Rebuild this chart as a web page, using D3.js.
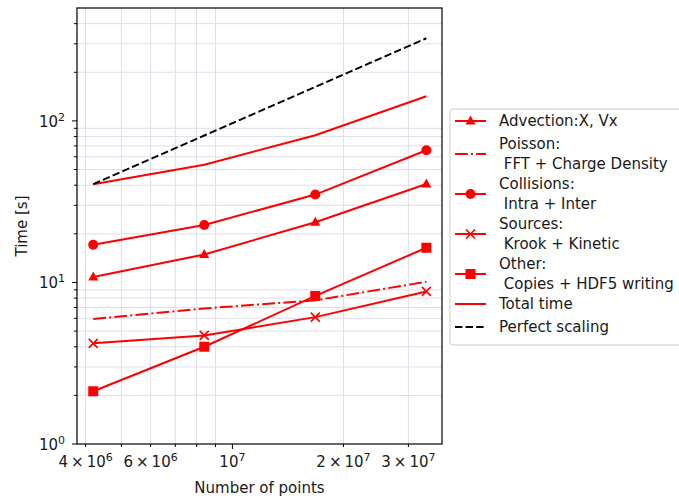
<!DOCTYPE html>
<html>
<head>
<meta charset="utf-8">
<script src="https://cdn.jsdelivr.net/npm/d3@7"></script>
<style>
  body { margin: 0; background: #fff; }
  text { font-family: "DejaVu Sans", sans-serif; fill: #1a1a1a; }
</style>
</head>
<body>
<svg id="chart" width="679" height="496"></svg>
<script>
const svg = d3.select("#chart"),
      width = +svg.attr("width"),
      height = +svg.attr("height");

// data
const points = [4194304, 8388608, 16777216, 33554432];
const advection = [10.8, 14.9, 23.6, 40.7];
const poisson = [5.95, 6.9, 7.75, 10.1];
const collisions = [17.1, 22.7, 35.0, 65.8];
const sources = [4.2, 4.7, 6.1, 8.8];
const other = [2.12, 4.0, 8.25, 16.4];
const total = [40.6, 53.6, 81.5, 142];
const perfect = [40.6, 81.2, 162.4, 324.8];

const xTickLabels = [[4, 6], [6, 6], [1, 7], [2, 7], [3, 7]];
const yTickLabels = [0, 1, 2];

const plot = {left: 77, right: 442, top: 8, bottom: 444};

const x = d3.scaleLog().domain([3.79e6, 3.70e7]).range([plot.left, plot.right]);
const y = d3.scaleLog().domain([1, 500]).range([plot.bottom, plot.top]);

const red = "#ff0000";
const gridColor = "#dedeea";

// minor grid only
const xMinor = [];
for (let e = 6; e <= 7; e++) for (let m = 2; m <= 9; m++) {
  const v = m * Math.pow(10, e);
  if (v > x.domain()[0] && v < x.domain()[1]) xMinor.push(v);
}
const yMinor = [];
for (let e = 0; e <= 2; e++) for (let m = 2; m <= 9; m++) {
  const v = m * Math.pow(10, e);
  if (v < y.domain()[1]) yMinor.push(v);
}

const grid = svg.append("g");
grid.selectAll(".gx").data(xMinor).join("line")
  .attr("x1", d => x(d)).attr("x2", d => x(d))
  .attr("y1", plot.top).attr("y2", plot.bottom)
  .attr("stroke", gridColor).attr("stroke-width", 1);
grid.selectAll(".gy").data(yMinor).join("line")
  .attr("x1", plot.left).attr("x2", plot.right)
  .attr("y1", d => y(d)).attr("y2", d => y(d))
  .attr("stroke", gridColor).attr("stroke-width", 1);

// series
const line = d3.line().x((d, i) => x(points[i])).y(d => y(d));

const series = [
  {name: ["Advection:X, Vx"], data: advection, marker: "triangle", dash: null, color: red},
  {name: ["Poisson:", " FFT + Charge Density"], data: poisson, marker: null, dash: "12.8,3.2,2,3.2", color: red},
  {name: ["Collisions:", " Intra + Inter"], data: collisions, marker: "circle", dash: null, color: red},
  {name: ["Sources:", " Krook + Kinetic"], data: sources, marker: "x", dash: null, color: red},
  {name: ["Other:", " Copies + HDF5 writing"], data: other, marker: "square", dash: null, color: red},
  {name: ["Total time"], data: total, marker: null, dash: null, color: red},
  {name: ["Perfect scaling"], data: perfect, marker: null, dash: "7.4,3.2", color: "#000"}
];

function drawMarker(g, type, cx, cy, color) {
  if (type === "circle") {
    g.append("circle").attr("cx", cx).attr("cy", cy).attr("r", 5).attr("fill", color);
  } else if (type === "square") {
    g.append("rect").attr("x", cx - 5).attr("y", cy - 5).attr("width", 10).attr("height", 10).attr("fill", color);
  } else if (type === "triangle") {
    g.append("path").attr("d", `M${cx},${cy - 5.5}L${cx + 5},${cy + 3.5}L${cx - 5},${cy + 3.5}Z`).attr("fill", color);
  } else if (type === "x") {
    g.append("path").attr("d", `M${cx - 4.5},${cy - 4.5}L${cx + 4.5},${cy + 4.5}M${cx - 4.5},${cy + 4.5}L${cx + 4.5},${cy - 4.5}`)
      .attr("stroke", color).attr("stroke-width", 1.6).attr("fill", "none");
  }
}

const lines = svg.append("g");
series.forEach(s => {
  lines.append("path")
    .datum(s.data)
    .attr("d", line)
    .attr("fill", "none")
    .attr("stroke", s.color)
    .attr("stroke-width", 2)
    .attr("stroke-dasharray", s.dash);
  if (s.marker) {
    s.data.forEach((d, i) => drawMarker(lines, s.marker, x(points[i]), y(d), s.color));
  }
});

// frame
svg.append("rect")
  .attr("x", plot.left).attr("y", plot.top)
  .attr("width", plot.right - plot.left).attr("height", plot.bottom - plot.top)
  .attr("fill", "none").attr("stroke", "#000").attr("stroke-width", 1.2);

// x ticks
const xAxis = svg.append("g");
xAxis.selectAll(".xminor").data(xMinor).join("line")
  .attr("x1", d => x(d)).attr("x2", d => x(d))
  .attr("y1", plot.bottom).attr("y2", plot.bottom + 3)
  .attr("stroke", "#000").attr("stroke-width", 1);
xAxis.append("line")
  .attr("x1", x(1e7)).attr("x2", x(1e7))
  .attr("y1", plot.bottom).attr("y2", plot.bottom + 5)
  .attr("stroke", "#000").attr("stroke-width", 1);

xAxis.selectAll(".xlab").data(xTickLabels).join("text")
  .attr("x", d => x(d[0] * Math.pow(10, d[1])))
  .attr("y", plot.bottom + 23)
  .attr("text-anchor", "middle")
  .attr("font-size", 15)
  .each(function(d) {
    const t = d3.select(this);
    if (d[0] !== 1) t.append("tspan").text(d[0] + "\u2009\u00d7\u2009");
    t.append("tspan").text("10");
    t.append("tspan").attr("font-size", 11).attr("dy", -6).text(d[1]);
  });

svg.append("text")
  .attr("x", (plot.left + plot.right) / 2)
  .attr("y", 493)
  .attr("text-anchor", "middle")
  .attr("font-size", 15)
  .text("Number of points");

// y ticks
const yAxis = svg.append("g");
yAxis.selectAll(".yminor").data(yMinor).join("line")
  .attr("x1", plot.left - 3).attr("x2", plot.left)
  .attr("y1", d => y(d)).attr("y2", d => y(d))
  .attr("stroke", "#000").attr("stroke-width", 1);
yAxis.selectAll(".ymajor").data(yTickLabels).join("line")
  .attr("x1", plot.left - 5).attr("x2", plot.left)
  .attr("y1", d => y(Math.pow(10, d))).attr("y2", d => y(Math.pow(10, d)))
  .attr("stroke", "#000").attr("stroke-width", 1);
yAxis.selectAll(".ylab").data(yTickLabels).join("text")
  .attr("x", plot.left - 12)
  .attr("y", d => y(Math.pow(10, d)) + 6)
  .attr("text-anchor", "end")
  .attr("font-size", 15)
  .each(function(d) {
    const t = d3.select(this);
    t.append("tspan").text("10");
    t.append("tspan").attr("font-size", 11).attr("dy", -6).text(d);
  });

svg.append("text")
  .attr("transform", `translate(27,${(plot.top + plot.bottom) / 2}) rotate(-90)`)
  .attr("text-anchor", "middle")
  .attr("font-size", 15)
  .text("Time [s]");

// legend
const legend = svg.append("g");
legend.append("rect")
  .attr("x", 450).attr("y", 109)
  .attr("width", 250).attr("height", 236)
  .attr("rx", 3)
  .attr("fill", "#fff").attr("stroke", "#ccc").attr("stroke-width", 1);

let ly = 121;
series.forEach(s => {
  const rows = s.name.length;
  const hy = rows === 1 ? ly : ly + 10;
  legend.append("line")
    .attr("x1", 455).attr("x2", 486)
    .attr("y1", hy).attr("y2", hy)
    .attr("stroke", s.color).attr("stroke-width", 2)
    .attr("stroke-dasharray", s.dash);
  if (s.marker) drawMarker(legend, s.marker, 470.5, hy, s.color);
  s.name.forEach((n, k) => {
    legend.append("text")
      .attr("x", 499)
      .attr("y", ly + k * 20 + 5)
      .attr("font-size", 15)
      .attr("xml:space", "preserve")
      .style("white-space", "pre")
      .text(n);
  });
  ly += rows === 1 ? 23 : 40;
});
</script>
</body>
</html>
